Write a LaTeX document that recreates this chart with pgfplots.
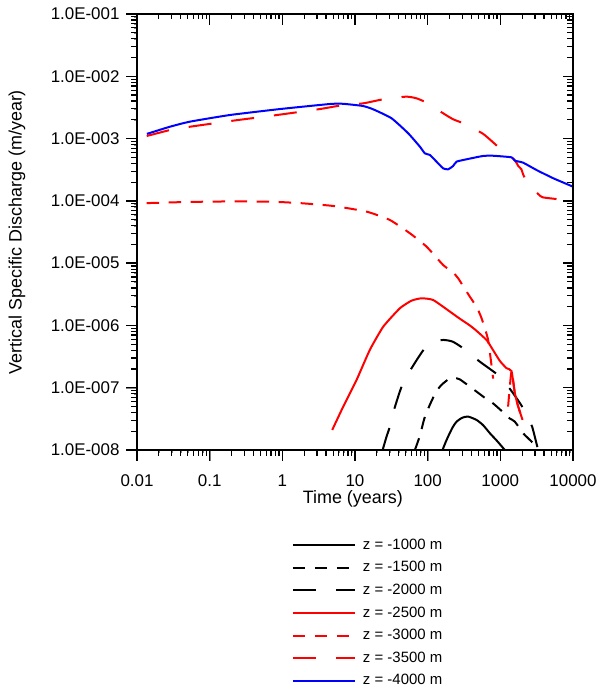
\documentclass[border=0pt]{standalone}
\usepackage{fontspec}
\setmainfont{Liberation Sans}
\usepackage{pgfplots}
\pgfplotsset{compat=1.18}
\definecolor{pred}{RGB}{255,0,0}
\definecolor{pblue}{RGB}{0,0,255}
\begin{document}
\begin{tikzpicture}
\useasboundingbox (0bp,0bp) rectangle (598bp,687bp);
\begin{axis}[
    at={(137bp,237bp)}, anchor=south west,
    width=436bp, height=436bp, scale only axis,
    xmode=log, ymode=log,
    xmin=0.01, xmax=10000, ymin=1e-8, ymax=1e-1,
    clip=false,
    xtick={0.01,0.1,1,10,100,1000,10000},
    ytick={1e-8,1e-7,1e-6,1e-5,1e-4,1e-3,1e-2,1e-1},
    major tick length=11bp,
    axis line style={line width=1.5bp, black},
    ticklabel style={font=\fontsize{17}{20}\selectfont},
    yticklabel style={xshift=-3bp},
    xticklabel style={yshift=-10bp},
    xtick pos=left, ytick pos=left, tick align=outside,
    xticklabels={0.01,0.1,1,10,100,1000,10000},
    yticklabels={1.0E-008,1.0E-007,1.0E-006,1.0E-005,1.0E-004,1.0E-003,1.0E-002,1.0E-001},
    xlabel={Time (years)}, ylabel={Vertical Specific Discharge (m/year)},
    label style={font=\fontsize{18}{21}\selectfont},
    xlabel style={at={(axis description cs:0.495,-0.113)}, anchor=center},
    ylabel style={at={(axis description cs:-0.275,0.5)}, anchor=center},
    unbounded coords=jump,
    legend style={draw=none, fill=none, inner sep=0pt, outer sep=0pt,
      at={(0.3555,-0.2025)}, anchor=north west,
      font=\fontsize{15}{18}\selectfont,
      nodes={inner sep=0pt, text height=11bp, text depth=3bp},
      row sep=8.6bp,
      /tikz/every odd column/.append style={column sep=7bp}},
    legend cell align=left,
    legend image code/.code={\draw[#1] (0bp,0bp) -- (62bp,0bp);},
]
% z = -1000 m
\addplot[black, solid, line width=2bp, smooth, tension=0.4] coordinates {
(160,1e-8) (175,1.3e-8) (191,1.64e-8) (220,2.3e-8) (250,2.85e-8) (300,3.3e-8)
(360,3.44e-8) (470,3.04e-8) (580,2.5e-8) (718,1.86e-8) (900,1.4e-8) (1153,1e-8)};
\addlegendentry{z = -1000 m}
% z = -1500 m
\addplot[black, dash pattern=on 12.5bp off 9.5bp, line width=2bp, smooth, tension=0.4] coordinates {
(66.7,1e-8) (78.2,1.7e-8) (90,3.2e-8) (107,5.3e-8) (130,8.5e-8) (155,1.11e-7) (202,1.42e-7)
(230,1.44e-7) (277,1.36e-7) (423,9.5e-8) (600,7e-8) (796,5.6e-8) (1100,4.0e-8) (1352,3.2e-8)
(1585,2.85e-8) (2060,1.86e-8) (2830,1.28e-8) (3150,1e-8)};
\addlegendentry{z = -1500 m}
% z = -2000 m
\addplot[black, dash pattern=on 23bp off 20bp, line width=2bp, smooth, tension=0.4] coordinates {
(24.0,1e-8) (27,1.6e-8) (30.2,2.38e-8) (33.6,4.0e-8) (43.8,1.04e-7) (60.1,2.06e-7) (91.4,4.31e-7)
(125,5.4e-7) (163,5.85e-7) (220,5.5e-7) (308,4.3e-7) (522,2.62e-7) (984,1.51e-7)
(1500,8.15e-8) (2060,4.69e-8) (2500,3.0e-8) (2740,2.37e-8) (2985,1.62e-8) (3310,1e-8)};
\addlegendentry{z = -2000 m}
% z = -2500 m
\addplot[pred, solid, line width=2bp, smooth, tension=0.3] coordinates {
(4.86,2.1e-8) (6.89,4.98e-8) (10.5,1.33e-7) (16.0,4.05e-7) (24.5,9.57e-7) (41.5,1.89e-6)
(60,2.5e-6) (82.4,2.73e-6) (119,2.56e-6) (202,1.67e-6) (260,1.35e-6) (380,1.0e-6)
(470,8.2e-7) (646,5.85e-7) (718,4.86e-7) (984,2.7e-7) (1216,2.06e-7) (1425,1.85e-7)
(1585,8.15e-8) (1762,4.98e-8) (2024,3.04e-8)};
\addlegendentry{z = -2500 m}
% z = -3000 m
\addplot[pred, dash pattern=on 12.5bp off 9.5bp, line width=2bp, smooth, tension=0.3] coordinates {
(0.0136,9.2e-5) (0.05,9.6e-5) (0.2,9.8e-5) (0.7,9.7e-5) (1.75,9.2e-5) (5.02,8.28e-5)
(14.5,6.71e-5) (30.2,4.93e-5) (56.9,3.02e-5) (96.6,1.84e-5) (163,9.35e-6) (224,7.05e-6)
(263,5.71e-6) (380,2.9e-6) (470,2.0e-6) (551,1.31e-6) (679,5.85e-7) (796,1.4e-7)
(1000,nan)
(1279,4.98e-8) (1425,1.85e-7) (1585,8.15e-8) (1762,4.98e-8) (2024,3.04e-8)};
\addlegendentry{z = -3000 m}
% z = -3500 m
\addplot[pred, dash pattern=on 23bp off 20bp, line width=2bp, smooth, tension=0.3] coordinates {
(0.0136,1.1e-3) (0.0284,1.37e-3) (0.0536,1.55e-3) (0.211,1.94e-3) (0.845,2.39e-3)
(3.3,2.98e-3) (6.54,3.42e-3) (13,3.68e-3) (25.8,4.33e-3) (51.2,4.71e-3) (70.3,4.43e-3)
(96.6,3.77e-3) (163,2.55e-3) (224,2.04e-3) (308,1.76e-3) (580,1.19e-3) (984,6.98e-4)
(1570,4.54e-4) (1762,3.63e-4) (1950,3.21e-4) (2062,2.65e-4) (2225,2.25e-4)
(3310,1.29e-4) (3840,1.14e-4) (5930,1.07e-4)};
\addlegendentry{z = -3500 m}
% z = -4000 m
\addplot[pblue, solid, line width=2bp, smooth, tension=0.3] coordinates {
(0.0137,1.19e-3) (0.0284,1.55e-3) (0.0536,1.87e-3) (0.19,2.39e-3) (0.93,2.98e-3)
(4.52,3.59e-3) (6.8,3.62e-3) (12.8,3.34e-3) (17.8,2.95e-3) (31.8,2.12e-3) (53.8,1.22e-3)
(78.2,7.41e-4) (91.4,5.8e-4) (107,5.46e-4) (125.6,4.54e-4) (163,3.33e-4) (191,3.21e-4)
(224,3.63e-4) (250,4.26e-4) (343,4.65e-4) (580,5.26e-4) (796,5.3e-4) (1425,5.0e-4)
(1585,4.42e-4) (2062,4.1e-4) (3146,3.13e-4) (5336,2.31e-4) (10000,1.69e-4)};
\addlegendentry{z = -4000 m}
% ---- frame ticks: x ticks point down, y ticks point left ----
% major x ticks (bottom outward 11bp, top inward 11bp)
\addplot[forget plot, black, solid, line width=1.3bp] coordinates {
(0.01,1e-8)(0.01,6.66e-9)(0.01,nan) (0.1,1e-8)(0.1,6.66e-9)(0.1,nan)
(1,1e-8)(1,6.66e-9)(1,nan) (10,1e-8)(10,6.66e-9)(10,nan)
(100,1e-8)(100,6.66e-9)(100,nan) (1000,1e-8)(1000,6.66e-9)(1000,nan)
(10000,1e-8)(10000,6.66e-9)(10000,nan)
(0.01,0.1)(0.01,0.0666)(0.01,nan) (0.1,0.1)(0.1,0.0666)(0.1,nan)
(1,0.1)(1,0.0666)(1,nan) (10,0.1)(10,0.0666)(10,nan)
(100,0.1)(100,0.0666)(100,nan) (1000,0.1)(1000,0.0666)(1000,nan)
(10000,0.1)(10000,0.0666)};
% minor x ticks (bottom 5.5bp, top 5bp)
\addplot[forget plot, black, solid, line width=1.2bp] coordinates {
(0.02,1e-8)(0.02,8.16e-9)(0.02,nan) (0.03,1e-8)(0.03,8.16e-9)(0.03,nan)
(0.04,1e-8)(0.04,8.16e-9)(0.04,nan) (0.05,1e-8)(0.05,8.16e-9)(0.05,nan)
(0.06,1e-8)(0.06,8.16e-9)(0.06,nan) (0.07,1e-8)(0.07,8.16e-9)(0.07,nan)
(0.08,1e-8)(0.08,8.16e-9)(0.08,nan) (0.09,1e-8)(0.09,8.16e-9)(0.09,nan)
(0.2,1e-8)(0.2,8.16e-9)(0.2,nan) (0.3,1e-8)(0.3,8.16e-9)(0.3,nan)
(0.4,1e-8)(0.4,8.16e-9)(0.4,nan) (0.5,1e-8)(0.5,8.16e-9)(0.5,nan)
(0.6,1e-8)(0.6,8.16e-9)(0.6,nan) (0.7,1e-8)(0.7,8.16e-9)(0.7,nan)
(0.8,1e-8)(0.8,8.16e-9)(0.8,nan) (0.9,1e-8)(0.9,8.16e-9)(0.9,nan)
(2,1e-8)(2,8.16e-9)(2,nan) (3,1e-8)(3,8.16e-9)(3,nan)
(4,1e-8)(4,8.16e-9)(4,nan) (5,1e-8)(5,8.16e-9)(5,nan)
(6,1e-8)(6,8.16e-9)(6,nan) (7,1e-8)(7,8.16e-9)(7,nan)
(8,1e-8)(8,8.16e-9)(8,nan) (9,1e-8)(9,8.16e-9)(9,nan)
(20,1e-8)(20,8.16e-9)(20,nan) (30,1e-8)(30,8.16e-9)(30,nan)
(40,1e-8)(40,8.16e-9)(40,nan) (50,1e-8)(50,8.16e-9)(50,nan)
(60,1e-8)(60,8.16e-9)(60,nan) (70,1e-8)(70,8.16e-9)(70,nan)
(80,1e-8)(80,8.16e-9)(80,nan) (90,1e-8)(90,8.16e-9)(90,nan)
(200,1e-8)(200,8.16e-9)(200,nan) (300,1e-8)(300,8.16e-9)(300,nan)
(400,1e-8)(400,8.16e-9)(400,nan) (500,1e-8)(500,8.16e-9)(500,nan)
(600,1e-8)(600,8.16e-9)(600,nan) (700,1e-8)(700,8.16e-9)(700,nan)
(800,1e-8)(800,8.16e-9)(800,nan) (900,1e-8)(900,8.16e-9)(900,nan)
(2000,1e-8)(2000,8.16e-9)(2000,nan) (3000,1e-8)(3000,8.16e-9)(3000,nan)
(4000,1e-8)(4000,8.16e-9)(4000,nan) (5000,1e-8)(5000,8.16e-9)(5000,nan)
(6000,1e-8)(6000,8.16e-9)(6000,nan) (7000,1e-8)(7000,8.16e-9)(7000,nan)
(8000,1e-8)(8000,8.16e-9)(8000,nan) (9000,1e-8)(9000,8.16e-9)(9000,nan)
(0.02,0.1)(0.02,0.0831)(0.02,nan) (0.03,0.1)(0.03,0.0831)(0.03,nan)
(0.04,0.1)(0.04,0.0831)(0.04,nan) (0.05,0.1)(0.05,0.0831)(0.05,nan)
(0.06,0.1)(0.06,0.0831)(0.06,nan) (0.07,0.1)(0.07,0.0831)(0.07,nan)
(0.08,0.1)(0.08,0.0831)(0.08,nan) (0.09,0.1)(0.09,0.0831)(0.09,nan)
(0.2,0.1)(0.2,0.0831)(0.2,nan) (0.3,0.1)(0.3,0.0831)(0.3,nan)
(0.4,0.1)(0.4,0.0831)(0.4,nan) (0.5,0.1)(0.5,0.0831)(0.5,nan)
(0.6,0.1)(0.6,0.0831)(0.6,nan) (0.7,0.1)(0.7,0.0831)(0.7,nan)
(0.8,0.1)(0.8,0.0831)(0.8,nan) (0.9,0.1)(0.9,0.0831)(0.9,nan)
(2,0.1)(2,0.0831)(2,nan) (3,0.1)(3,0.0831)(3,nan)
(4,0.1)(4,0.0831)(4,nan) (5,0.1)(5,0.0831)(5,nan)
(6,0.1)(6,0.0831)(6,nan) (7,0.1)(7,0.0831)(7,nan)
(8,0.1)(8,0.0831)(8,nan) (9,0.1)(9,0.0831)(9,nan)
(20,0.1)(20,0.0831)(20,nan) (30,0.1)(30,0.0831)(30,nan)
(40,0.1)(40,0.0831)(40,nan) (50,0.1)(50,0.0831)(50,nan)
(60,0.1)(60,0.0831)(60,nan) (70,0.1)(70,0.0831)(70,nan)
(80,0.1)(80,0.0831)(80,nan) (90,0.1)(90,0.0831)(90,nan)
(200,0.1)(200,0.0831)(200,nan) (300,0.1)(300,0.0831)(300,nan)
(400,0.1)(400,0.0831)(400,nan) (500,0.1)(500,0.0831)(500,nan)
(600,0.1)(600,0.0831)(600,nan) (700,0.1)(700,0.0831)(700,nan)
(800,0.1)(800,0.0831)(800,nan) (900,0.1)(900,0.0831)(900,nan)
(2000,0.1)(2000,0.0831)(2000,nan) (3000,0.1)(3000,0.0831)(3000,nan)
(4000,0.1)(4000,0.0831)(4000,nan) (5000,0.1)(5000,0.0831)(5000,nan)
(6000,0.1)(6000,0.0831)(6000,nan) (7000,0.1)(7000,0.0831)(7000,nan)
(8000,0.1)(8000,0.0831)(8000,nan) (9000,0.1)(9000,0.0831)};
% major y ticks (left outward 11bp, right inward 10bp)
\addplot[forget plot, black, solid, line width=1.3bp] coordinates {
(0.01,1e-8)(0.00706,1e-8)(nan,1e-8) (0.01,1e-7)(0.00706,1e-7)(nan,1e-7)
(0.01,1e-6)(0.00706,1e-6)(nan,1e-6) (0.01,1e-5)(0.00706,1e-5)(nan,1e-5)
(0.01,1e-4)(0.00706,1e-4)(nan,1e-4) (0.01,1e-3)(0.00706,1e-3)(nan,1e-3)
(0.01,1e-2)(0.00706,1e-2)(nan,1e-2) (0.01,1e-1)(0.00706,1e-1)(nan,1e-1)
(10000,1e-8)(7290,1e-8)(nan,1e-8) (10000,1e-7)(7290,1e-7)(nan,1e-7)
(10000,1e-6)(7290,1e-6)(nan,1e-6) (10000,1e-5)(7290,1e-5)(nan,1e-5)
(10000,1e-4)(7290,1e-4)(nan,1e-4) (10000,1e-3)(7290,1e-3)(nan,1e-3)
(10000,1e-2)(7290,1e-2)(nan,1e-2) (10000,1e-1)(7290,1e-1)};
% minor y ticks (left 5.5bp, right 6bp)
\addplot[forget plot, black, solid, line width=1.2bp] coordinates {
(0.01,2e-8)(0.0084,2e-8)(nan,2e-8) (0.01,3e-8)(0.0084,3e-8)(nan,3e-8)
(0.01,4e-8)(0.0084,4e-8)(nan,4e-8) (0.01,5e-8)(0.0084,5e-8)(nan,5e-8)
(0.01,6e-8)(0.0084,6e-8)(nan,6e-8) (0.01,7e-8)(0.0084,7e-8)(nan,7e-8)
(0.01,8e-8)(0.0084,8e-8)(nan,8e-8) (0.01,9e-8)(0.0084,9e-8)(nan,9e-8)
(0.01,2e-7)(0.0084,2e-7)(nan,2e-7) (0.01,3e-7)(0.0084,3e-7)(nan,3e-7)
(0.01,4e-7)(0.0084,4e-7)(nan,4e-7) (0.01,5e-7)(0.0084,5e-7)(nan,5e-7)
(0.01,6e-7)(0.0084,6e-7)(nan,6e-7) (0.01,7e-7)(0.0084,7e-7)(nan,7e-7)
(0.01,8e-7)(0.0084,8e-7)(nan,8e-7) (0.01,9e-7)(0.0084,9e-7)(nan,9e-7)
(0.01,2e-6)(0.0084,2e-6)(nan,2e-6) (0.01,3e-6)(0.0084,3e-6)(nan,3e-6)
(0.01,4e-6)(0.0084,4e-6)(nan,4e-6) (0.01,5e-6)(0.0084,5e-6)(nan,5e-6)
(0.01,6e-6)(0.0084,6e-6)(nan,6e-6) (0.01,7e-6)(0.0084,7e-6)(nan,7e-6)
(0.01,8e-6)(0.0084,8e-6)(nan,8e-6) (0.01,9e-6)(0.0084,9e-6)(nan,9e-6)
(0.01,2e-5)(0.0084,2e-5)(nan,2e-5) (0.01,3e-5)(0.0084,3e-5)(nan,3e-5)
(0.01,4e-5)(0.0084,4e-5)(nan,4e-5) (0.01,5e-5)(0.0084,5e-5)(nan,5e-5)
(0.01,6e-5)(0.0084,6e-5)(nan,6e-5) (0.01,7e-5)(0.0084,7e-5)(nan,7e-5)
(0.01,8e-5)(0.0084,8e-5)(nan,8e-5) (0.01,9e-5)(0.0084,9e-5)(nan,9e-5)
(0.01,2e-4)(0.0084,2e-4)(nan,2e-4) (0.01,3e-4)(0.0084,3e-4)(nan,3e-4)
(0.01,4e-4)(0.0084,4e-4)(nan,4e-4) (0.01,5e-4)(0.0084,5e-4)(nan,5e-4)
(0.01,6e-4)(0.0084,6e-4)(nan,6e-4) (0.01,7e-4)(0.0084,7e-4)(nan,7e-4)
(0.01,8e-4)(0.0084,8e-4)(nan,8e-4) (0.01,9e-4)(0.0084,9e-4)(nan,9e-4)
(0.01,2e-3)(0.0084,2e-3)(nan,2e-3) (0.01,3e-3)(0.0084,3e-3)(nan,3e-3)
(0.01,4e-3)(0.0084,4e-3)(nan,4e-3) (0.01,5e-3)(0.0084,5e-3)(nan,5e-3)
(0.01,6e-3)(0.0084,6e-3)(nan,6e-3) (0.01,7e-3)(0.0084,7e-3)(nan,7e-3)
(0.01,8e-3)(0.0084,8e-3)(nan,8e-3) (0.01,9e-3)(0.0084,9e-3)(nan,9e-3)
(0.01,2e-2)(0.0084,2e-2)(nan,2e-2) (0.01,3e-2)(0.0084,3e-2)(nan,3e-2)
(0.01,4e-2)(0.0084,4e-2)(nan,4e-2) (0.01,5e-2)(0.0084,5e-2)(nan,5e-2)
(0.01,6e-2)(0.0084,6e-2)(nan,6e-2) (0.01,7e-2)(0.0084,7e-2)(nan,7e-2)
(0.01,8e-2)(0.0084,8e-2)(nan,8e-2) (0.01,9e-2)(0.0084,9e-2)(nan,9e-2)
(10000,2e-8)(8270,2e-8)(nan,2e-8) (10000,3e-8)(8270,3e-8)(nan,3e-8)
(10000,4e-8)(8270,4e-8)(nan,4e-8) (10000,5e-8)(8270,5e-8)(nan,5e-8)
(10000,6e-8)(8270,6e-8)(nan,6e-8) (10000,7e-8)(8270,7e-8)(nan,7e-8)
(10000,8e-8)(8270,8e-8)(nan,8e-8) (10000,9e-8)(8270,9e-8)(nan,9e-8)
(10000,2e-7)(8270,2e-7)(nan,2e-7) (10000,3e-7)(8270,3e-7)(nan,3e-7)
(10000,4e-7)(8270,4e-7)(nan,4e-7) (10000,5e-7)(8270,5e-7)(nan,5e-7)
(10000,6e-7)(8270,6e-7)(nan,6e-7) (10000,7e-7)(8270,7e-7)(nan,7e-7)
(10000,8e-7)(8270,8e-7)(nan,8e-7) (10000,9e-7)(8270,9e-7)(nan,9e-7)
(10000,2e-6)(8270,2e-6)(nan,2e-6) (10000,3e-6)(8270,3e-6)(nan,3e-6)
(10000,4e-6)(8270,4e-6)(nan,4e-6) (10000,5e-6)(8270,5e-6)(nan,5e-6)
(10000,6e-6)(8270,6e-6)(nan,6e-6) (10000,7e-6)(8270,7e-6)(nan,7e-6)
(10000,8e-6)(8270,8e-6)(nan,8e-6) (10000,9e-6)(8270,9e-6)(nan,9e-6)
(10000,2e-5)(8270,2e-5)(nan,2e-5) (10000,3e-5)(8270,3e-5)(nan,3e-5)
(10000,4e-5)(8270,4e-5)(nan,4e-5) (10000,5e-5)(8270,5e-5)(nan,5e-5)
(10000,6e-5)(8270,6e-5)(nan,6e-5) (10000,7e-5)(8270,7e-5)(nan,7e-5)
(10000,8e-5)(8270,8e-5)(nan,8e-5) (10000,9e-5)(8270,9e-5)(nan,9e-5)
(10000,2e-4)(8270,2e-4)(nan,2e-4) (10000,3e-4)(8270,3e-4)(nan,3e-4)
(10000,4e-4)(8270,4e-4)(nan,4e-4) (10000,5e-4)(8270,5e-4)(nan,5e-4)
(10000,6e-4)(8270,6e-4)(nan,6e-4) (10000,7e-4)(8270,7e-4)(nan,7e-4)
(10000,8e-4)(8270,8e-4)(nan,8e-4) (10000,9e-4)(8270,9e-4)(nan,9e-4)
(10000,2e-3)(8270,2e-3)(nan,2e-3) (10000,3e-3)(8270,3e-3)(nan,3e-3)
(10000,4e-3)(8270,4e-3)(nan,4e-3) (10000,5e-3)(8270,5e-3)(nan,5e-3)
(10000,6e-3)(8270,6e-3)(nan,6e-3) (10000,7e-3)(8270,7e-3)(nan,7e-3)
(10000,8e-3)(8270,8e-3)(nan,8e-3) (10000,9e-3)(8270,9e-3)(nan,9e-3)
(10000,2e-2)(8270,2e-2)(nan,2e-2) (10000,3e-2)(8270,3e-2)(nan,3e-2)
(10000,4e-2)(8270,4e-2)(nan,4e-2) (10000,5e-2)(8270,5e-2)(nan,5e-2)
(10000,6e-2)(8270,6e-2)(nan,6e-2) (10000,7e-2)(8270,7e-2)(nan,7e-2)
(10000,8e-2)(8270,8e-2)(nan,8e-2) (10000,9e-2)(8270,9e-2)};
\draw[black, line width=1.5bp] (rel axis cs:0,0) rectangle (rel axis cs:1,1);
\end{axis}
\end{tikzpicture}
\end{document}
